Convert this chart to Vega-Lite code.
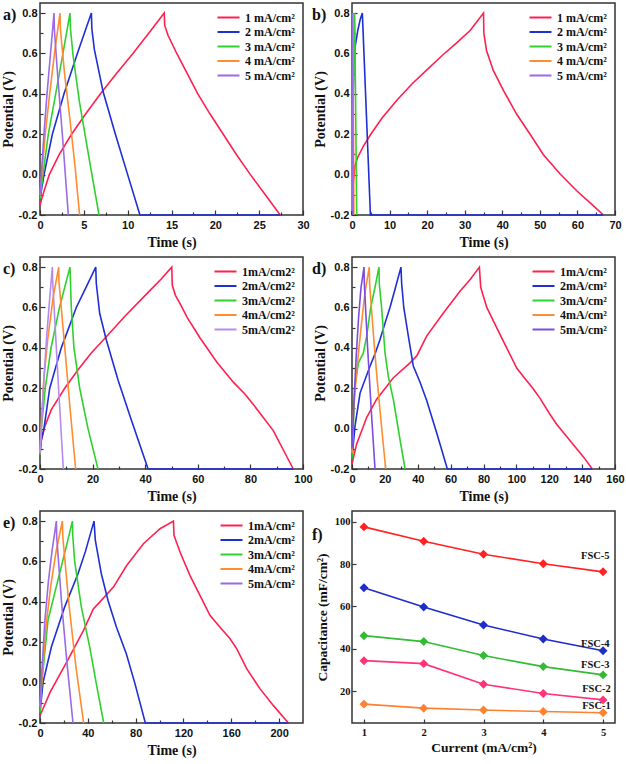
{
"$schema": "https://vega.github.io/schema/vega-lite/v6.json",
"background": "white",
"padding": {"left": 0, "top": 2, "right": 0, "bottom": 0},
"autosize": {"type": "pad"},
"config": {
 "font": "Liberation Serif",
 "view": {"stroke": "#333", "strokeWidth": 1.5},
 "axis": {"grid": false, "domain": false, "labelFont": "Liberation Sans", "labelFontWeight": "bold", "labelFontSize": 11, "labelColor": "#111", "labelFlush": false, "labelOverlap": false, "titleFont": "Liberation Serif", "titleFontWeight": "bold", "titleFontSize": 14, "titleColor": "#111", "tickColor": "#333", "tickWidth": 1.2},
 "axisX": {"labelPadding": 9, "titlePadding": 3},
 "axisY": {"labelPadding": 8, "titlePadding": 3},
 "legend": {"orient": "top-right", "offset": 8, "padding": 0, "symbolType": "M-2,0H2", "symbolSize": 121, "symbolStrokeWidth": 2, "labelFont": "Liberation Serif", "labelFontWeight": "bold", "labelFontSize": 12, "labelColor": "#111", "labelOffset": 10, "rowPadding": 1.5}
},
"datasets": {
 "a": [
  {"s":"1","t":0,"v":-0.15},{"s":"1","t":0.4,"v":-0.09},{"s":"1","t":1.06,"v":0},{"s":"1","t":2.2,"v":0.1},{"s":"1","t":3.6,"v":0.2},{"s":"1","t":5.2,"v":0.3},{"s":"1","t":6.9,"v":0.4},{"s":"1","t":8.7,"v":0.5},{"s":"1","t":10.6,"v":0.6},{"s":"1","t":12.4,"v":0.7},{"s":"1","t":14.17,"v":0.8},{"s":"1","t":14.22,"v":0.74},{"s":"1","t":14.6,"v":0.69},{"s":"1","t":15.6,"v":0.6},{"s":"1","t":16.8,"v":0.5},{"s":"1","t":18.0,"v":0.4},{"s":"1","t":19.4,"v":0.3},{"s":"1","t":20.9,"v":0.2},{"s":"1","t":22.4,"v":0.1},{"s":"1","t":24.0,"v":0.0},{"s":"1","t":25.7,"v":-0.1},{"s":"1","t":27.4,"v":-0.2},
  {"s":"2","t":0,"v":-0.12},{"s":"2","t":0.46,"v":0},{"s":"2","t":1.41,"v":0.2},{"s":"2","t":2.74,"v":0.4},{"s":"2","t":4.26,"v":0.6},{"s":"2","t":5.86,"v":0.8},{"s":"2","t":5.92,"v":0.72},{"s":"2","t":6.2,"v":0.62},{"s":"2","t":7.2,"v":0.41},{"s":"2","t":8.6,"v":0.2},{"s":"2","t":10.0,"v":0.0},{"s":"2","t":11.4,"v":-0.2},{"s":"2","t":27.4,"v":-0.2},
  {"s":"3","t":0,"v":-0.12},{"s":"3","t":0.34,"v":0},{"s":"3","t":0.95,"v":0.2},{"s":"3","t":1.79,"v":0.4},{"s":"3","t":2.62,"v":0.6},{"s":"3","t":3.42,"v":0.8},{"s":"3","t":3.48,"v":0.72},{"s":"3","t":3.8,"v":0.58},{"s":"3","t":4.5,"v":0.36},{"s":"3","t":5.6,"v":0.08},{"s":"3","t":6.73,"v":-0.2},
  {"s":"4","t":0,"v":-0.1},{"s":"4","t":0.2,"v":0},{"s":"4","t":0.6,"v":0.2},{"s":"4","t":1.1,"v":0.4},{"s":"4","t":1.65,"v":0.6},{"s":"4","t":2.28,"v":0.8},{"s":"4","t":2.33,"v":0.72},{"s":"4","t":2.8,"v":0.5},{"s":"4","t":3.4,"v":0.28},{"s":"4","t":4.0,"v":0.04},{"s":"4","t":4.52,"v":-0.2},
  {"s":"5","t":0,"v":-0.1},{"s":"5","t":0.15,"v":0},{"s":"5","t":0.45,"v":0.2},{"s":"5","t":0.8,"v":0.4},{"s":"5","t":1.2,"v":0.6},{"s":"5","t":1.6,"v":0.8},{"s":"5","t":1.64,"v":0.72},{"s":"5","t":2.0,"v":0.5},{"s":"5","t":2.6,"v":0.17},{"s":"5","t":3.23,"v":-0.2}
 ],
 "b": [
  {"s":"1","t":0,"v":-0.18},{"s":"1","t":0.3,"v":-0.05},{"s":"1","t":0.8,"v":0.045},{"s":"1","t":1.5,"v":0.085},{"s":"1","t":3,"v":0.14},{"s":"1","t":5,"v":0.2},{"s":"1","t":8,"v":0.28},{"s":"1","t":12,"v":0.37},{"s":"1","t":16,"v":0.45},{"s":"1","t":20,"v":0.52},{"s":"1","t":24,"v":0.59},{"s":"1","t":28,"v":0.655},{"s":"1","t":31.5,"v":0.715},{"s":"1","t":35.0,"v":0.8},{"s":"1","t":35.1,"v":0.7},{"s":"1","t":35.8,"v":0.615},{"s":"1","t":37.6,"v":0.516},{"s":"1","t":40.3,"v":0.417},{"s":"1","t":43.8,"v":0.3},{"s":"1","t":47.4,"v":0.2},{"s":"1","t":50.9,"v":0.1},{"s":"1","t":55.4,"v":0.003},{"s":"1","t":59.8,"v":-0.08},{"s":"1","t":64.2,"v":-0.154},{"s":"1","t":66.9,"v":-0.2},
  {"s":"2","t":0,"v":-0.2},{"s":"2","t":0.25,"v":0.3},{"s":"2","t":0.5,"v":0.55},{"s":"2","t":0.9,"v":0.64},{"s":"2","t":1.5,"v":0.71},{"s":"2","t":2.2,"v":0.77},{"s":"2","t":2.75,"v":0.8},{"s":"2","t":2.82,"v":0.77},{"s":"2","t":4.9,"v":-0.2},{"s":"2","t":66.9,"v":-0.2},
  {"s":"3","t":0,"v":-0.15},{"s":"3","t":0.3,"v":0.4},{"s":"3","t":0.7,"v":0.8},{"s":"3","t":0.76,"v":0.74},{"s":"3","t":1.25,"v":-0.2},
  {"s":"4","t":0,"v":-0.18},{"s":"4","t":0.25,"v":0.8},{"s":"4","t":0.5,"v":-0.2},
  {"s":"5","t":0,"v":-0.18},{"s":"5","t":0.15,"v":0.8},{"s":"5","t":0.3,"v":-0.2}
 ],
 "c": [
  {"s":"1","t":0,"v":-0.13},{"s":"1","t":0.5,"v":-0.06},{"s":"1","t":1.8,"v":0.01},{"s":"1","t":4.3,"v":0.094},{"s":"1","t":9.4,"v":0.2},{"s":"1","t":14.4,"v":0.29},{"s":"1","t":19.5,"v":0.375},{"s":"1","t":25.2,"v":0.455},{"s":"1","t":32.2,"v":0.555},{"s":"1","t":41.1,"v":0.675},{"s":"1","t":46,"v":0.74},{"s":"1","t":50.1,"v":0.8},{"s":"1","t":50.3,"v":0.71},{"s":"1","t":51.5,"v":0.66},{"s":"1","t":53.2,"v":0.62},{"s":"1","t":56,"v":0.55},{"s":"1","t":60.8,"v":0.45},{"s":"1","t":67.2,"v":0.33},{"s":"1","t":73.5,"v":0.23},{"s":"1","t":78,"v":0.17},{"s":"1","t":81.1,"v":0.12},{"s":"1","t":88.7,"v":-0.01},{"s":"1","t":96.3,"v":-0.2},
  {"s":"2","t":0,"v":-0.12},{"s":"2","t":0.4,"v":-0.06},{"s":"2","t":1.5,"v":0},{"s":"2","t":3.7,"v":0.2},{"s":"2","t":8.1,"v":0.4},{"s":"2","t":13.8,"v":0.6},{"s":"2","t":17.5,"v":0.7},{"s":"2","t":21.2,"v":0.8},{"s":"2","t":21.4,"v":0.72},{"s":"2","t":22.7,"v":0.57},{"s":"2","t":25.2,"v":0.44},{"s":"2","t":29.7,"v":0.24},{"s":"2","t":34.7,"v":0.044},{"s":"2","t":41.1,"v":-0.2},{"s":"2","t":96.3,"v":-0.2},
  {"s":"3","t":0,"v":-0.13},{"s":"3","t":0.5,"v":0},{"s":"3","t":2.0,"v":0.2},{"s":"3","t":4.2,"v":0.4},{"s":"3","t":7.4,"v":0.6},{"s":"3","t":9.4,"v":0.7},{"s":"3","t":11.4,"v":0.8},{"s":"3","t":11.9,"v":0.6},{"s":"3","t":12.9,"v":0.4},{"s":"3","t":15.1,"v":0.2},{"s":"3","t":18.25,"v":0},{"s":"3","t":22.05,"v":-0.2},
  {"s":"4","t":0,"v":-0.12},{"s":"4","t":0.6,"v":0.05},{"s":"4","t":1.5,"v":0.25},{"s":"4","t":3,"v":0.45},{"s":"4","t":5,"v":0.65},{"s":"4","t":7.1,"v":0.8},{"s":"4","t":7.2,"v":0.73},{"s":"4","t":9.5,"v":0.39},{"s":"4","t":11.5,"v":0.09},{"s":"4","t":13.56,"v":-0.2},
  {"s":"5","t":0,"v":-0.12},{"s":"5","t":0.5,"v":0},{"s":"5","t":1.5,"v":0.25},{"s":"5","t":2.5,"v":0.45},{"s":"5","t":3.6,"v":0.63},{"s":"5","t":4.69,"v":0.8},{"s":"5","t":4.78,"v":0.74},{"s":"5","t":6.8,"v":0.26},{"s":"5","t":8.87,"v":-0.2}
 ],
 "d": [
  {"s":"1","t":0,"v":-0.175},{"s":"1","t":2.8,"v":-0.077},{"s":"1","t":8.9,"v":0.055},{"s":"1","t":15,"v":0.146},{"s":"1","t":25.2,"v":0.252},{"s":"1","t":35.3,"v":0.326},{"s":"1","t":39.4,"v":0.36},{"s":"1","t":45.4,"v":0.458},{"s":"1","t":55.6,"v":0.573},{"s":"1","t":65.7,"v":0.68},{"s":"1","t":72,"v":0.74},{"s":"1","t":77.5,"v":0.8},{"s":"1","t":78.3,"v":0.7},{"s":"1","t":82,"v":0.6},{"s":"1","t":88,"v":0.5},{"s":"1","t":94.1,"v":0.4},{"s":"1","t":100.2,"v":0.3},{"s":"1","t":106,"v":0.24},{"s":"1","t":110,"v":0.2},{"s":"1","t":114.4,"v":0.15},{"s":"1","t":120.5,"v":0.07},{"s":"1","t":124.5,"v":0.022},{"s":"1","t":132.7,"v":-0.06},{"s":"1","t":140.8,"v":-0.14},{"s":"1","t":146.2,"v":-0.2},
  {"s":"2","t":0,"v":-0.15},{"s":"2","t":1.8,"v":0.011},{"s":"2","t":4.9,"v":0.176},{"s":"2","t":11,"v":0.31},{"s":"2","t":14,"v":0.37},{"s":"2","t":17,"v":0.44},{"s":"2","t":20,"v":0.52},{"s":"2","t":23.1,"v":0.6},{"s":"2","t":26.5,"v":0.7},{"s":"2","t":29.8,"v":0.8},{"s":"2","t":30.2,"v":0.72},{"s":"2","t":31.5,"v":0.6},{"s":"2","t":34.3,"v":0.457},{"s":"2","t":37.3,"v":0.31},{"s":"2","t":41.4,"v":0.23},{"s":"2","t":45.4,"v":0.14},{"s":"2","t":51.5,"v":-0.02},{"s":"2","t":58,"v":-0.2},{"s":"2","t":146.2,"v":-0.2},
  {"s":"3","t":0,"v":-0.15},{"s":"3","t":0.8,"v":0},{"s":"3","t":1.6,"v":0.2},{"s":"3","t":3.9,"v":0.325},{"s":"3","t":6.9,"v":0.375},{"s":"3","t":8.9,"v":0.457},{"s":"3","t":11.4,"v":0.6},{"s":"3","t":14,"v":0.7},{"s":"3","t":16.4,"v":0.8},{"s":"3","t":16.6,"v":0.72},{"s":"3","t":18,"v":0.6},{"s":"3","t":20.1,"v":0.374},{"s":"3","t":22.1,"v":0.259},{"s":"3","t":25.2,"v":0.143},{"s":"3","t":29.2,"v":-0.055},{"s":"3","t":32.3,"v":-0.2},
  {"s":"4","t":0,"v":-0.12},{"s":"4","t":1,"v":0.1},{"s":"4","t":3,"v":0.3},{"s":"4","t":5.5,"v":0.5},{"s":"4","t":8,"v":0.68},{"s":"4","t":10.5,"v":0.8},{"s":"4","t":10.7,"v":0.72},{"s":"4","t":13,"v":0.47},{"s":"4","t":15,"v":0.27},{"s":"4","t":17.5,"v":0.05},{"s":"4","t":20.5,"v":-0.2},
  {"s":"5","t":0,"v":-0.1},{"s":"5","t":1,"v":0.1},{"s":"5","t":2.5,"v":0.35},{"s":"5","t":4,"v":0.55},{"s":"5","t":5.5,"v":0.7},{"s":"5","t":7.3,"v":0.8},{"s":"5","t":7.5,"v":0.72},{"s":"5","t":9.5,"v":0.4},{"s":"5","t":11.8,"v":0.08},{"s":"5","t":14.0,"v":-0.2}
 ],
 "e": [
  {"s":"1","t":0,"v":-0.164},{"s":"1","t":8.4,"v":-0.048},{"s":"1","t":22.3,"v":0.101},{"s":"1","t":36.3,"v":0.258},{"s":"1","t":44.6,"v":0.365},{"s":"1","t":50.2,"v":0.4},{"s":"1","t":61.4,"v":0.473},{"s":"1","t":72.5,"v":0.58},{"s":"1","t":86.5,"v":0.688},{"s":"1","t":100.4,"v":0.762},{"s":"1","t":111.6,"v":0.8},{"s":"1","t":112.1,"v":0.729},{"s":"1","t":117.2,"v":0.646},{"s":"1","t":125.5,"v":0.53},{"s":"1","t":133.9,"v":0.431},{"s":"1","t":142.3,"v":0.332},{"s":"1","t":150.6,"v":0.274},{"s":"1","t":159,"v":0.217},{"s":"1","t":164.6,"v":0.167},{"s":"1","t":173,"v":0.068},{"s":"1","t":184.1,"v":-0.031},{"s":"1","t":195.3,"v":-0.114},{"s":"1","t":207.8,"v":-0.2},
  {"s":"2","t":0,"v":-0.15},{"s":"2","t":2.5,"v":0},{"s":"2","t":9.5,"v":0.176},{"s":"2","t":20.6,"v":0.374},{"s":"2","t":31.8,"v":0.539},{"s":"2","t":38,"v":0.65},{"s":"2","t":45.2,"v":0.8},{"s":"2","t":46.3,"v":0.704},{"s":"2","t":51.3,"v":0.539},{"s":"2","t":56.9,"v":0.407},{"s":"2","t":63.9,"v":0.275},{"s":"2","t":72.2,"v":0.143},{"s":"2","t":79.2,"v":0},{"s":"2","t":88.1,"v":-0.2},{"s":"2","t":207.8,"v":-0.2},
  {"s":"3","t":0,"v":-0.15},{"s":"3","t":1.5,"v":0},{"s":"3","t":6.7,"v":0.31},{"s":"3","t":15.1,"v":0.51},{"s":"3","t":21,"v":0.65},{"s":"3","t":27.1,"v":0.8},{"s":"3","t":27.5,"v":0.72},{"s":"3","t":29,"v":0.6},{"s":"3","t":34.6,"v":0.374},{"s":"3","t":41.6,"v":0.176},{"s":"3","t":47.1,"v":-0.005},{"s":"3","t":53.3,"v":-0.2},
  {"s":"4","t":0,"v":-0.12},{"s":"4","t":2,"v":0.05},{"s":"4","t":5,"v":0.28},{"s":"4","t":9,"v":0.48},{"s":"4","t":13.5,"v":0.65},{"s":"4","t":18.7,"v":0.8},{"s":"4","t":19.1,"v":0.72},{"s":"4","t":24,"v":0.4},{"s":"4","t":30,"v":0.08},{"s":"4","t":36.5,"v":-0.2},
  {"s":"5","t":0,"v":-0.12},{"s":"5","t":1.5,"v":0.05},{"s":"5","t":4,"v":0.3},{"s":"5","t":7,"v":0.5},{"s":"5","t":10,"v":0.65},{"s":"5","t":13.7,"v":0.8},{"s":"5","t":14,"v":0.72},{"s":"5","t":18,"v":0.4},{"s":"5","t":22.5,"v":0.1},{"s":"5","t":27.6,"v":-0.2}
 ],
 "f": [
  {"s":"FSC-5","c":1,"cap":97.5},{"s":"FSC-5","c":2,"cap":90.7},{"s":"FSC-5","c":3,"cap":84.6},{"s":"FSC-5","c":4,"cap":80.1},{"s":"FSC-5","c":5,"cap":76.3},
  {"s":"FSC-4","c":1,"cap":68.8},{"s":"FSC-4","c":2,"cap":59.7},{"s":"FSC-4","c":3,"cap":51.2},{"s":"FSC-4","c":4,"cap":44.6},{"s":"FSC-4","c":5,"cap":39.1},
  {"s":"FSC-3","c":1,"cap":46.2},{"s":"FSC-3","c":2,"cap":43.4},{"s":"FSC-3","c":3,"cap":36.8},{"s":"FSC-3","c":4,"cap":31.6},{"s":"FSC-3","c":5,"cap":27.7},
  {"s":"FSC-2","c":1,"cap":34.4},{"s":"FSC-2","c":2,"cap":33.0},{"s":"FSC-2","c":3,"cap":23.3},{"s":"FSC-2","c":4,"cap":18.9},{"s":"FSC-2","c":5,"cap":15.9},
  {"s":"FSC-1","c":1,"cap":13.9},{"s":"FSC-1","c":2,"cap":12.0},{"s":"FSC-1","c":3,"cap":11.1},{"s":"FSC-1","c":4,"cap":10.4},{"s":"FSC-1","c":5,"cap":9.8}
 ],
 "flab": [
  {"s":"FSC-5","c":4.87,"cap":84.0},{"s":"FSC-4","c":4.87,"cap":42.3},{"s":"FSC-3","c":4.87,"cap":32.4},{"s":"FSC-2","c":4.89,"cap":21.1},{"s":"FSC-1","c":4.89,"cap":12.8}
 ]
},
"columns": 2,
"spacing": {"row": 42, "column": 49},
"bounds": "flush",
"resolve": {"scale": {"color": "independent", "x": "independent", "y": "independent"}, "legend": {"color": "independent"}},
"concat": [
 {
  "width": 263, "height": 212,
  "title": {"text": "a)", "anchor": "start", "frame": "group", "orient": "top", "baseline": "top", "offset": -20, "dx": -37, "font": "Liberation Serif", "fontSize": 16, "fontWeight": "bold", "color": "#111"},
  "data": {"name": "a"},
  "mark": {"type": "line", "strokeWidth": 1.6},
  "encoding": {
   "x": {"field": "t", "type": "quantitative", "scale": {"domain": [0, 30], "nice": false, "zero": false},
    "axis": {"title": "Time (s)", "values": [0,2.5,5,7.5,10,12.5,15,17.5,20,22.5,25,27.5,30], "labelExpr": "datum.value % 5 === 0 ? datum.label : ''", "tickSize": {"condition": {"test": "datum.value % 5 === 0", "value": -5}, "value": -3}}},
   "y": {"field": "v", "type": "quantitative", "scale": {"domain": [-0.2, 0.85], "nice": false, "zero": false},
    "axis": {"title": "Potential (V)", "format": ".1f", "values": [-0.2,-0.1,0,0.1,0.2,0.3,0.4,0.5,0.6,0.7,0.8], "labelExpr": "round(datum.value*10) % 2 === 0 ? replace(datum.label, '−', '-') : ''", "tickSize": {"condition": {"test": "round(datum.value*10) % 2 === 0", "value": -5}, "value": -3}}},
   "color": {"field": "s", "type": "nominal", "scale": {"domain": ["1","2","3","4","5"], "range": ["#ff2050","#1f2fd6","#2fd12f","#ff8c2e","#9b6ae8"]}, "legend": {"title": null, "labelExpr": "datum.label + ' mA/cm²'"}}
  }
 },
 {
  "width": 263, "height": 212,
  "title": {"text": "b)", "anchor": "start", "frame": "group", "orient": "top", "baseline": "top", "offset": -20, "dx": -40, "font": "Liberation Serif", "fontSize": 16, "fontWeight": "bold", "color": "#111"},
  "data": {"name": "b"},
  "mark": {"type": "line", "strokeWidth": 1.6},
  "encoding": {
   "x": {"field": "t", "type": "quantitative", "scale": {"domain": [0, 70], "nice": false, "zero": false},
    "axis": {"title": "Time (s)", "values": [0,5,10,15,20,25,30,35,40,45,50,55,60,65,70], "labelExpr": "datum.value % 10 === 0 ? datum.label : ''", "tickSize": {"condition": {"test": "datum.value % 10 === 0", "value": -5}, "value": -3}}},
   "y": {"field": "v", "type": "quantitative", "scale": {"domain": [-0.2, 0.85], "nice": false, "zero": false},
    "axis": {"title": "Potential (V)", "format": ".1f", "values": [-0.2,-0.1,0,0.1,0.2,0.3,0.4,0.5,0.6,0.7,0.8], "labelExpr": "round(datum.value*10) % 2 === 0 ? replace(datum.label, '−', '-') : ''", "tickSize": {"condition": {"test": "round(datum.value*10) % 2 === 0", "value": -5}, "value": -3}}},
   "color": {"field": "s", "type": "nominal", "scale": {"domain": ["1","2","3","4","5"], "range": ["#ff2050","#1f2fd6","#2fd12f","#ff8c2e","#9b6ae8"]}, "legend": {"title": null, "labelExpr": "datum.label + ' mA/cm²'"}}
  }
 },
 {
  "width": 263, "height": 212,
  "title": {"text": "c)", "anchor": "start", "frame": "group", "orient": "top", "baseline": "top", "offset": -20, "dx": -37, "font": "Liberation Serif", "fontSize": 16, "fontWeight": "bold", "color": "#111"},
  "data": {"name": "c"},
  "mark": {"type": "line", "strokeWidth": 1.6},
  "encoding": {
   "x": {"field": "t", "type": "quantitative", "scale": {"domain": [0, 100], "nice": false, "zero": false},
    "axis": {"title": "Time (s)", "values": [0,10,20,30,40,50,60,70,80,90,100], "labelExpr": "datum.value % 20 === 0 ? datum.label : ''", "tickSize": {"condition": {"test": "datum.value % 20 === 0", "value": -5}, "value": -3}}},
   "y": {"field": "v", "type": "quantitative", "scale": {"domain": [-0.2, 0.85], "nice": false, "zero": false},
    "axis": {"title": "Potential (V)", "format": ".1f", "values": [-0.2,-0.1,0,0.1,0.2,0.3,0.4,0.5,0.6,0.7,0.8], "labelExpr": "round(datum.value*10) % 2 === 0 ? replace(datum.label, '−', '-') : ''", "tickSize": {"condition": {"test": "round(datum.value*10) % 2 === 0", "value": -5}, "value": -3}}},
   "color": {"field": "s", "type": "nominal", "scale": {"domain": ["1","2","3","4","5"], "range": ["#ff2050","#1f2fd6","#2fd12f","#ff8c2e","#b48cf0"]}, "legend": {"title": null, "labelExpr": "datum.label + 'mA/cm2²'"}}
  }
 },
 {
  "width": 263, "height": 212,
  "title": {"text": "d)", "anchor": "start", "frame": "group", "orient": "top", "baseline": "top", "offset": -20, "dx": -40, "font": "Liberation Serif", "fontSize": 16, "fontWeight": "bold", "color": "#111"},
  "data": {"name": "d"},
  "mark": {"type": "line", "strokeWidth": 1.6},
  "encoding": {
   "x": {"field": "t", "type": "quantitative", "scale": {"domain": [0, 160], "nice": false, "zero": false},
    "axis": {"title": "Time (s)", "values": [0,10,20,30,40,50,60,70,80,90,100,110,120,130,140,150,160], "labelExpr": "datum.value % 20 === 0 ? datum.label : ''", "tickSize": {"condition": {"test": "datum.value % 20 === 0", "value": -5}, "value": -3}}},
   "y": {"field": "v", "type": "quantitative", "scale": {"domain": [-0.2, 0.85], "nice": false, "zero": false},
    "axis": {"title": "Potential (V)", "format": ".1f", "values": [-0.2,-0.1,0,0.1,0.2,0.3,0.4,0.5,0.6,0.7,0.8], "labelExpr": "round(datum.value*10) % 2 === 0 ? replace(datum.label, '−', '-') : ''", "tickSize": {"condition": {"test": "round(datum.value*10) % 2 === 0", "value": -5}, "value": -3}}},
   "color": {"field": "s", "type": "nominal", "scale": {"domain": ["1","2","3","4","5"], "range": ["#ff2050","#1f2fd6","#2fd12f","#ff8c2e","#7a4de0"]}, "legend": {"title": null, "labelExpr": "datum.label + 'mA/cm²'"}}
  }
 },
 {
  "width": 263, "height": 212,
  "title": {"text": "e)", "anchor": "start", "frame": "group", "orient": "top", "baseline": "top", "offset": -20, "dx": -37, "font": "Liberation Serif", "fontSize": 16, "fontWeight": "bold", "color": "#111"},
  "data": {"name": "e"},
  "mark": {"type": "line", "strokeWidth": 1.6},
  "encoding": {
   "x": {"field": "t", "type": "quantitative", "scale": {"domain": [0, 220], "nice": false, "zero": false},
    "axis": {"title": "Time (s)", "values": [0,20,40,60,80,100,120,140,160,180,200], "labelExpr": "datum.value % 40 === 0 ? datum.label : ''", "tickSize": {"condition": {"test": "datum.value % 40 === 0", "value": -5}, "value": -3}}},
   "y": {"field": "v", "type": "quantitative", "scale": {"domain": [-0.2, 0.85], "nice": false, "zero": false},
    "axis": {"title": "Potential (V)", "format": ".1f", "values": [-0.2,-0.1,0,0.1,0.2,0.3,0.4,0.5,0.6,0.7,0.8], "labelExpr": "round(datum.value*10) % 2 === 0 ? replace(datum.label, '−', '-') : ''", "tickSize": {"condition": {"test": "round(datum.value*10) % 2 === 0", "value": -5}, "value": -3}}},
   "color": {"field": "s", "type": "nominal", "scale": {"domain": ["1","2","3","4","5"], "range": ["#ff2050","#1f2fd6","#2fd12f","#ff8c2e","#9b6ae8"]}, "legend": {"title": null, "labelExpr": "datum.label + 'mA/cm²'"}}
  }
 },
 {
  "width": 263, "height": 212,
  "title": {"text": "f)", "anchor": "start", "frame": "group", "orient": "top", "baseline": "top", "offset": -32, "dx": -40, "font": "Liberation Serif", "fontSize": 16, "fontWeight": "bold", "color": "#111"},
  "encoding": {
   "x": {"field": "c", "type": "quantitative", "scale": {"domain": [0.8, 5.2], "nice": false, "zero": false},
    "axis": {"title": "Current (mA/cm²)", "values": [1,2,3,4,5], "labelFont": "Liberation Serif", "labelFontSize": 10.5, "tickSize": -4, "labelPadding": 8, "titleFontSize": 13.5}},
   "y": {"field": "cap", "type": "quantitative", "scale": {"domain": [5, 105], "nice": false, "zero": false},
    "axis": {"title": "Capacitance (mF/cm²)", "values": [20,40,60,80,100], "labelFont": "Liberation Serif", "labelFontSize": 10.5, "tickSize": -4, "labelPadding": 6, "titlePadding": 5, "titleFontSize": 13.5}},
   "color": {"field": "s", "type": "nominal", "scale": {"domain": ["FSC-5","FSC-4","FSC-3","FSC-2","FSC-1"], "range": ["#ff2222","#1f2ccc","#33bb33","#ff3377","#ff8030"]}, "legend": null}
  },
  "layer": [
   {"data": {"name": "f"}, "mark": {"type": "line", "strokeWidth": 1.6}},
   {"data": {"name": "f"}, "mark": {"type": "point", "shape": "diamond", "filled": true, "size": 80, "opacity": 1}},
   {"data": {"name": "flab"}, "mark": {"type": "text", "font": "Liberation Serif", "fontWeight": "bold", "fontSize": 10.5}, "encoding": {"text": {"field": "s"}, "color": {"value": "#111"}}}
  ]
 }
]
}
